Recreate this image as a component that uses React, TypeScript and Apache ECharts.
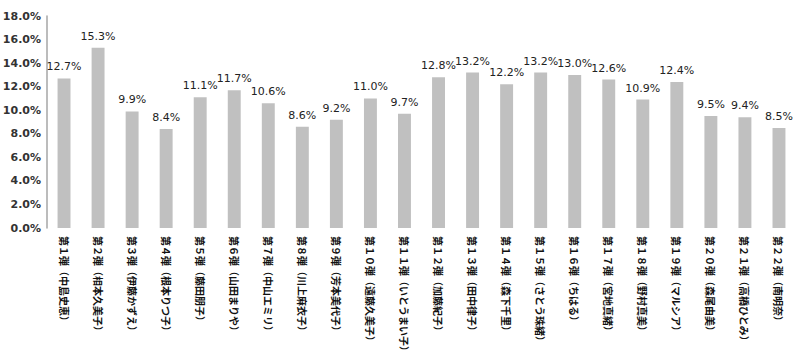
import React, { useEffect, useRef } from "react";
import * as echarts from "echarts";

const categories: string[] = [
  "第１弾（中島史恵）",
  "第２弾（相本久美子）",
  "第３弾（伊藤かずえ）",
  "第４弾（根本りつ子）",
  "第５弾（藤田朋子）",
  "第６弾（山田まりや）",
  "第７弾（中山エミリ）",
  "第８弾（川上麻衣子）",
  "第９弾（芳本美代子）",
  "第１０弾（遠藤久美子）",
  "第１１弾（いとうまい子）",
  "第１２弾（加藤紀子）",
  "第１３弾（田中律子）",
  "第１４弾（森下千里）",
  "第１５弾（さとう珠緒）",
  "第１６弾（ちはる）",
  "第１７弾（宮地真緒）",
  "第１８弾（野村真美）",
  "第１９弾（マルシア）",
  "第２０弾（森尾由美）",
  "第２１弾（高橋ひとみ）",
  "第２２弾（南明奈）",
];

const values: number[] = [
  12.7, 15.3, 9.9, 8.4, 11.1, 11.7, 10.6, 8.6, 9.2, 11.0, 9.7, 12.8, 13.2, 12.2,
  13.2, 13.0, 12.6, 10.9, 12.4, 9.5, 9.4, 8.5,
];

export default function App() {
  const ref = useRef<HTMLDivElement>(null);
  useEffect(() => {
    if (!ref.current) return;
    const chart = echarts.init(ref.current, null, { renderer: "svg" });
    chart.setOption({
      animation: false,
      grid: {
        left: 47,
        right: 4,
        top: 16,
        bottom: 128,
        containLabel: false,
        outerBoundsMode: "none",
      },
      xAxis: {
        type: "category",
        data: categories,
        axisLine: { show: false },
        axisTick: { show: false },
        axisLabel: {
          rotate: -90,
          interval: 0,
          margin: 8,
          fontSize: 10,
          fontWeight: "bold",
          color: "#111",
          fontFamily: "Noto Sans CJK JP",
        },
      },
      yAxis: {
        type: "value",
        min: 0,
        max: 18,
        interval: 2,
        axisLine: { show: true, lineStyle: { color: "#a6a6a6", width: 1.5 } },
        axisTick: { show: false },
        splitLine: { show: false },
        axisLabel: {
          formatter: (v: number) => v.toFixed(1) + "%",
          fontSize: 11,
          fontWeight: "bold",
          color: "#333",
          fontFamily: "DejaVu Sans",
          margin: 6,
        },
      },
      series: [
        {
          type: "bar",
          data: values,
          barWidth: "38%",
          itemStyle: { color: "#c0c0c0" },
          label: {
            show: true,
            position: "top",
            distance: 6,
            formatter: (p: any) => Number(p.value).toFixed(1) + "%",
            fontSize: 11,
            color: "#222",
            fontFamily: "DejaVu Sans",
          },
        },
      ],
    });
    return () => chart.dispose();
  }, []);
  return <div ref={ref} style={{ width: 800, height: 356, position: "absolute", left: 0, top: 0 }} />;
}
